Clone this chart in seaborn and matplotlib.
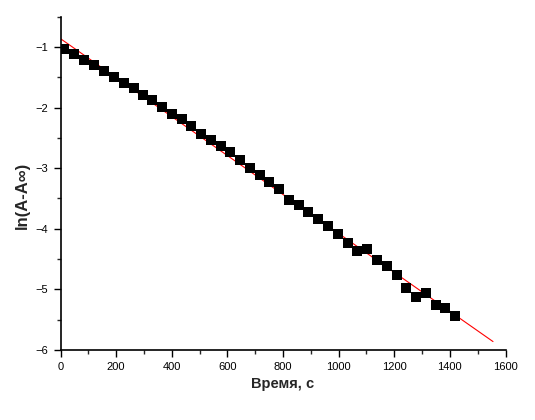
import matplotlib
matplotlib.use("Agg")
import matplotlib.pyplot as plt
import seaborn as sns
import pandas as pd
from matplotlib.ticker import MultipleLocator

# measured points: time (s) and ln(A - A_inf)
time_s = [13, 50, 86, 120, 156, 191, 227, 263, 297, 330,
          366, 402, 437, 470, 506, 542, 576, 611, 647, 682,
          717, 751, 787, 823, 858, 891, 927, 963, 998, 1033,
          1067, 1103, 1139, 1174, 1209, 1243, 1279, 1314, 1349, 1384,
          1420]
ln_values = [-1.03, -1.12, -1.22, -1.30, -1.40, -1.50, -1.60, -1.68, -1.80, -1.88,
             -1.99, -2.10, -2.19, -2.31, -2.43, -2.54, -2.64, -2.74, -2.87, -2.99,
             -3.12, -3.22, -3.35, -3.52, -3.60, -3.73, -3.84, -3.96, -4.09, -4.23,
             -4.37, -4.34, -4.51, -4.62, -4.77, -4.97, -5.12, -5.06, -5.25, -5.31,
             -5.44]

# linear fit line end points
fit_time = [0, 1555]
fit_values = [-0.863, -5.861]

points = pd.DataFrame({"t": time_s, "y": ln_values})
fit = pd.DataFrame({"t": fit_time, "y": fit_values})

sns.set_theme(style="ticks")
plt.rcParams["font.family"] = ["Liberation Sans", "DejaVu Sans"]

fig = plt.figure(figsize=(5.35, 4.2), dpi=100)
ax = fig.add_axes([0.1131, 0.1667, 0.8318, 0.7936])

sns.lineplot(data=fit, x="t", y="y", color="red", linewidth=0.8, ax=ax)
sns.scatterplot(data=points, x="t", y="y", marker="s", color="black",
                s=44, linewidth=0, ax=ax, zorder=3)

ax.set_xlim(0, 1600)
ax.set_ylim(-6, -0.5)
ax.xaxis.set_major_locator(MultipleLocator(200))
ax.xaxis.set_minor_locator(MultipleLocator(100))
ax.yaxis.set_major_locator(MultipleLocator(1))
ax.yaxis.set_minor_locator(MultipleLocator(0.5))

ax.tick_params(which="major", length=5, width=1, direction="out",
               labelsize=8, colors="black", pad=4)
ax.tick_params(which="minor", length=3, width=1, direction="out")
for side in ["top", "right"]:
    ax.spines[side].set_visible(False)
for side in ["left", "bottom"]:
    ax.spines[side].set_linewidth(1.2)
    ax.spines[side].set_color("black")

ax.set_xlabel("Время, с", fontsize=10.5, fontweight="bold", labelpad=3)
ax.set_ylabel("ln(A-A∞)", fontsize=12, fontweight="bold")
ax.yaxis.set_label_coords(-0.068, 0.465)

fig.savefig("out.png", dpi=100)
